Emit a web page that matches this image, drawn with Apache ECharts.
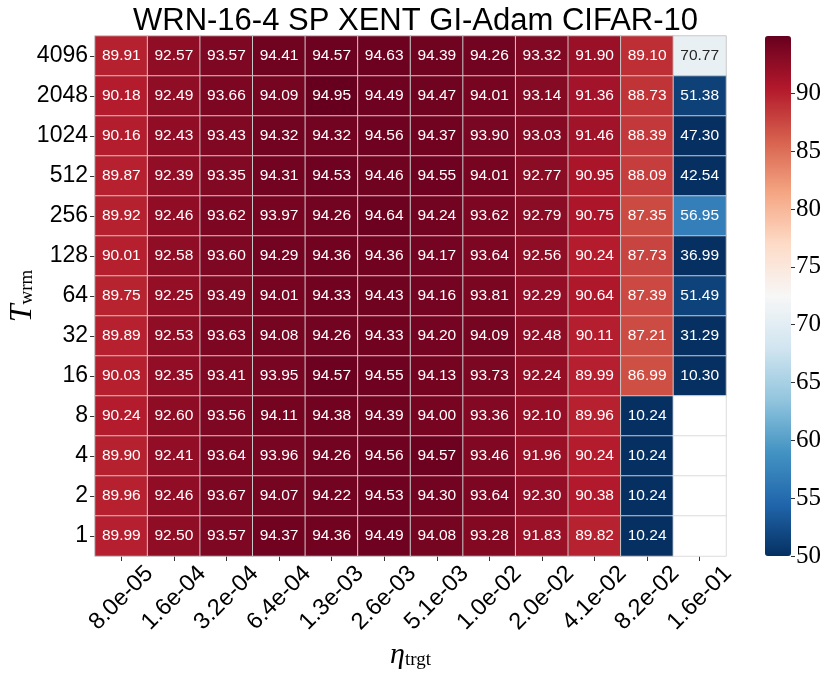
<!DOCTYPE html>
<html>
<head>
<meta charset="utf-8">
<script src="https://cdn.jsdelivr.net/npm/echarts@6/dist/echarts.min.js"></script>
<style>
  html, body { margin: 0; padding: 0; background: #ffffff; }
  #chart { width: 831px; height: 674px; }
</style>
</head>
<body>
<div id="chart"></div>
<script>
// ---- data ----
const chartTitle = 'WRN-16-4 SP XENT GI-Adam CIFAR-10';
const etaLabels = ['8.0e-05','1.6e-04','3.2e-04','6.4e-04','1.3e-03','2.6e-03','5.1e-03','1.0e-02','2.0e-02','4.1e-02','8.2e-02','1.6e-01'];
// rows from top (4096) to bottom (1)
const twrmLabels = ['4096','2048','1024','512','256','128','64','32','16','8','4','2','1'];
const acc4096 = [89.91,92.57,93.57,94.41,94.57,94.63,94.39,94.26,93.32,91.90,89.10,70.77];
const acc2048 = [90.18,92.49,93.66,94.09,94.95,94.49,94.47,94.01,93.14,91.36,88.73,51.38];
const acc1024 = [90.16,92.43,93.43,94.32,94.32,94.56,94.37,93.90,93.03,91.46,88.39,47.30];
const acc512  = [89.87,92.39,93.35,94.31,94.53,94.46,94.55,94.01,92.77,90.95,88.09,42.54];
const acc256  = [89.92,92.46,93.62,93.97,94.26,94.64,94.24,93.62,92.79,90.75,87.35,56.95];
const acc128  = [90.01,92.58,93.60,94.29,94.36,94.36,94.17,93.64,92.56,90.24,87.73,36.99];
const acc64   = [89.75,92.25,93.49,94.01,94.33,94.43,94.16,93.81,92.29,90.64,87.39,51.49];
const acc32   = [89.89,92.53,93.63,94.08,94.26,94.33,94.20,94.09,92.48,90.11,87.21,31.29];
const acc16   = [90.03,92.35,93.41,93.95,94.57,94.55,94.13,93.73,92.24,89.99,86.99,10.30];
const acc8    = [90.24,92.60,93.56,94.11,94.38,94.39,94.00,93.36,92.10,89.96,10.24,null];
const acc4    = [89.90,92.41,93.64,93.96,94.26,94.56,94.57,93.46,91.96,90.24,10.24,null];
const acc2    = [89.96,92.46,93.67,94.07,94.22,94.53,94.30,93.64,92.30,90.38,10.24,null];
const acc1    = [89.99,92.50,93.57,94.37,94.36,94.49,94.08,93.28,91.83,89.82,10.24,null];
const accRows = [acc4096,acc2048,acc1024,acc512,acc256,acc128,acc64,acc32,acc16,acc8,acc4,acc2,acc1];
const colorMin = 50;
const colorMax = 94.95;
const cbarTicks = [50,55,60,65,70,75,80,85,90];

// ---- build ----
const yCats = twrmLabels.slice().reverse(); // bottom -> top
const cells = [];
const emptyCells = [];
accRows.forEach((row, r) => {
  const yi = twrmLabels.length - 1 - r;
  row.forEach((v, xi) => {
    if (v === null) { emptyCells.push([xi, yi, 0]); return; }
    const dark = v > 62 && v < 83;
    cells.push({ value: [xi, yi, v], label: { color: dark ? '#262626' : '#ffffff' } });
  });
});

const rdbuR = ['#053061','#2166ac','#4393c3','#92c5de','#d1e5f0','#f7f7f7','#fddbc7','#f4a582','#d6604d','#b2182b','#67001f'];
const sans = 'Liberation Sans';
const serif = 'Liberation Serif';

const chart = echarts.init(document.getElementById('chart'), null, { renderer: 'canvas' });
chart.setOption({
  animation: false,
  backgroundColor: '#ffffff',
  title: {
    text: chartTitle,
    left: 'center',
    top: 1,
    textStyle: { fontFamily: sans, fontSize: 31, fontWeight: 'normal', color: '#000' }
  },
  grid: [
    { left: 95, right: 105, top: 36, bottom: 118, containLabel: false, outerBoundsMode: 'none' },
    { left: 765, width: 26, top: 36, bottom: 118, containLabel: false, outerBoundsMode: 'none' }
  ],
  xAxis: [
    {
      type: 'category', gridIndex: 0, data: etaLabels,
      axisLine: { show: false },
      axisTick: { show: true, alignWithLabel: true, length: 5, lineStyle: { color: '#333' } },
      axisLabel: { rotate: 45, align: 'center', verticalAlign: 'middle', margin: 42, fontFamily: sans, fontSize: 23.5, color: '#000' },
      splitLine: { show: false },
      name: '{e|η}{s|trgt}',
      nameLocation: 'middle',
      nameMoveOverlap: false,
      nameGap: 84,
      nameTextStyle: {
        rich: {
          e: { fontFamily: serif, fontStyle: 'italic', fontSize: 30, lineHeight: 30, verticalAlign: 'top', color: '#000' },
          s: { fontFamily: serif, fontSize: 19, lineHeight: 19, padding: [15, 0, 0, 0], verticalAlign: 'bottom', color: '#000' }
        }
      }
    },
    { type: 'category', gridIndex: 1, data: ['c'], show: false }
  ],
  yAxis: [
    {
      type: 'category', gridIndex: 0, data: yCats,
      axisLine: { show: false },
      axisTick: { show: true, alignWithLabel: true, length: 5, lineStyle: { color: '#333' } },
      axisLabel: { margin: 7, fontFamily: sans, fontSize: 23, color: '#000' },
      splitLine: { show: false },
      name: '{t|T}{s|wrm}',
      nameLocation: 'middle',
      nameRotate: 90,
      nameMoveOverlap: false,
      nameGap: 58,
      nameTextStyle: {
        rich: {
          t: { fontFamily: serif, fontStyle: 'italic', fontSize: 32, lineHeight: 30, verticalAlign: 'top', color: '#000' },
          s: { fontFamily: serif, fontSize: 19, lineHeight: 19, padding: [15, 0, 0, 0], verticalAlign: 'bottom', color: '#000' }
        }
      }
    },
    {
      type: 'value', gridIndex: 1, position: 'right',
      min: colorMin, max: colorMax,
      axisLine: { show: false },
      splitLine: { show: false },
      axisTick: { show: true, length: 4, customValues: cbarTicks, lineStyle: { color: '#333' } },
      axisLabel: { margin: 5, customValues: cbarTicks, fontFamily: serif, fontSize: 25, color: '#000' }
    }
  ],
  visualMap: {
    type: 'continuous',
    seriesIndex: 0,
    min: colorMin, max: colorMax,
    calculable: false,
    orient: 'vertical',
    left: 765, top: 36,
    itemWidth: 26, itemHeight: 520,
    padding: 0,
    text: null,
    showLabel: false,
    inRange: { color: rdbuR }
  },
  series: [
    {
      type: 'heatmap',
      xAxisIndex: 0, yAxisIndex: 0,
      data: cells,
      itemStyle: { borderColor: '#c8c8c8', borderWidth: 1 },
      label: { show: true, fontFamily: sans, fontSize: 15.5, formatter: p => p.value[2].toFixed(2) },
      emphasis: { disabled: true }
    },
    {
      type: 'heatmap',
      xAxisIndex: 0, yAxisIndex: 0,
      data: emptyCells,
      itemStyle: { color: '#ffffff', borderColor: '#dcdcdc', borderWidth: 1 },
      label: { show: false },
      emphasis: { disabled: true }
    }
  ]
});
</script>
</body>
</html>
